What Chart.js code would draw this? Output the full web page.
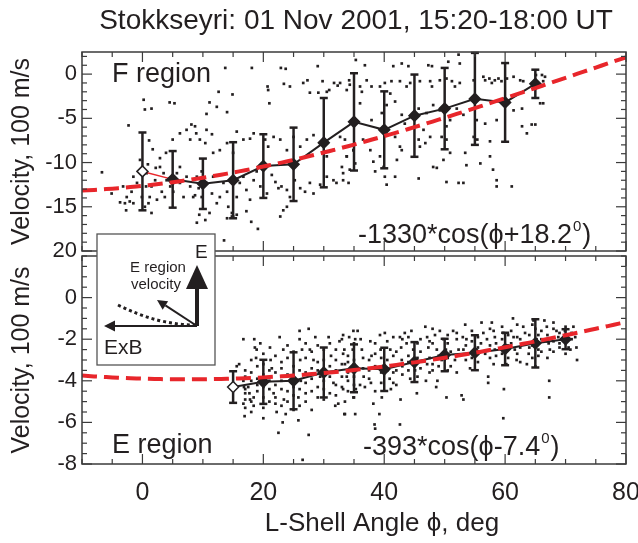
<!DOCTYPE html>
<html>
<head>
<meta charset="utf-8">
<script src="https://cdn.jsdelivr.net/npm/chart.js@4.4.1/dist/chart.umd.min.js"></script>
<style>
  body { margin: 0; background: #fff; }
  #wrap { position: relative; width: 638px; height: 543px; }
  #wrap canvas { position: absolute; left: 0; top: 0; }
</style>
</head>
<body>
<div id="wrap">
  <canvas id="chartF" width="638" height="543"></canvas>
  <canvas id="chartE" width="638" height="543"></canvas>
</div>
<script>
const FONT = "'Liberation Sans', Arial, Helvetica, sans-serif";
const INK = '#231f20';
const FIT_RED = '#e8262b';

// L-shell angle axis (deg)
const angleTicks = [0, 20, 40, 60, 80];

// F region: 5 deg bin averages and standard deviations, 100 m/s
const fBins = [0, 5, 10, 15, 20, 25, 30, 35, 40, 45, 50, 55, 60, 65];
const fMean = [-11.0, -11.9, -12.4, -12.0, -10.4, -10.2, -7.75, -5.4, -6.3, -4.7, -3.9, -2.8, -3.2, -1.1];
const fSd = [4.4, 3.2, 2.85, 4.3, 3.6, 4.15, 5.05, 5.5, 4.35, 4.65, 4.6, 5.2, 4.45, 1.6];
const fTicks = [0, -5, -10, -15, -20];
const fTickLabels = ['0', '-5', '-10', '-15', '20'];

// E region bins
const eBins = [15, 20, 25, 30, 35, 40, 45, 50, 55, 60, 65, 70];
const eMean = [-4.3, -4.05, -4.0, -3.6, -3.4, -3.45, -3.1, -2.76, -2.65, -2.47, -2.2, -2.0];
const eSd = [0.76, 1.06, 1.37, 1.2, 1.15, 1.04, 0.96, 0.78, 0.84, 0.78, 1.16, 0.48];
const eTicks = [0, -2, -4, -6, -8];
const eTickLabels = ['0', '-2', '-4', '-6', '-8'];

// cosine fits, m/s and deg
const fFit = { amp: -1330, phase: 18.2 };
const eFit = { amp: -393, phase: -7.4 };

// individual velocity samples [angle, velocity/100]
const fDots = [
  [13.7,0.7],[18.1,0.7],[22.9,0.7],[23.7,0.6],[29.0,0.9],[35.3,1.6],
  [0.2,-2.9],[0.4,-4.0],[1.5,-3.9],[4.5,-3.2],[5.3,-3.3],[12.6,-2.0],[14.9,-2.3],[11.1,-3.2],[12.3,-3.7],[14.0,-4.3],[10.6,-4.5],
  [20.7,-1.4],[20.8,-1.8],[21.0,-3.3],[24.4,-1.4],[23.4,-1.1],[26.6,-1.0],[27.3,-0.7],[27.7,-2.1],[29.1,-2.1],[29.8,-0.8],[30.5,-2.0],[30.9,-1.8],[31.7,-1.0],[32.3,-1.3],[34.2,-0.7],[34.3,-1.2],
  [-2.3,-5.8],[-6.7,-11.1],[-5.1,-13.5],[-3.7,-14.5],[-2.9,-14.6],[-2.1,-14.4],[-1.5,-14.6],[-2.7,-15.4],
  [1.1,-7.5],[1.7,-8.5],[0.9,-10.2],[0.6,-12.7],[1.0,-14.6],[1.5,-15.7],[2.9,-9.5],[3.9,-8.9],[5.0,-7.4],[7.3,-6.3],[8.1,-5.7],[8.9,-6.7],[10.4,-7.8],[11.5,-6.8],
  [8.7,-13.7],[9.8,-13.9],[9.4,-15.9],[9.0,-16.8],[10.4,-16.5],[11.1,-15.7],[14.0,-16.3],[14.8,-16.1],[15.6,-15.9],[17.2,-15.5],[18.0,-16.7],[19.1,-17.5],[22.8,-16.1],[23.3,-15.4],[13.5,-18.8],
  [2.9,-10.5],[3.5,-11.2],[4.0,-12.0],[4.6,-12.7],[3.2,-13.3],[3.7,-13.9],[5.1,-13.3],[5.7,-11.2],[6.2,-12.3],[6.8,-13.9],[7.3,-11.6],[7.9,-12.7],[6.2,-10.5],[8.4,-13.9],[9.0,-11.6],[9.3,-12.9],[9.8,-11.0],[10.6,-12.3],[11.5,-13.5],[11.7,-11.6],[12.3,-14.6],[12.8,-13.9],[13.4,-12.3],[14.0,-13.3],[14.2,-15.0],[14.8,-15.7],[15.6,-13.9],[16.1,-12.3],[16.7,-11.6],[17.2,-13.1],[17.8,-14.2],[18.4,-12.0],[18.9,-11.0],[19.5,-12.7],[20.6,-13.5],[21.4,-11.4],[22.0,-12.2],[22.5,-12.9],[23.0,-12.7],[23.9,-13.1],[24.4,-13.9],[25.2,-12.0],[26.1,-12.9],[26.9,-13.3],[27.7,-12.3],[28.3,-13.5],[29.4,-12.5],[30.5,-11.6],[31.6,-12.0],[32.1,-12.3],[33.2,-11.2],[34.3,-10.8],[35.2,-10.1],
  [6.2,-6.7],[7.9,-7.4],[8.7,-5.9],[9.5,-7.4],[10.6,-6.3],[11.7,-8.9],[12.8,-8.6],[14.0,-7.8],[15.0,-8.9],[15.6,-6.5],[16.7,-7.4],[17.8,-7.3],[18.4,-6.7],[20.3,-7.4],[20.8,-8.2],[21.7,-7.1],[22.8,-7.4],[23.9,-8.6],[25.0,-7.1],[26.1,-8.2],[27.2,-7.4],[28.3,-6.9],[29.4,-7.8],[30.5,-9.3],[31.6,-8.6],[32.7,-7.1],[33.8,-9.3],[34.9,-8.6],
  [-3.2,-12.7],[-2.6,-13.9],[-1.8,-13.3],[-1.5,-11.6],[-0.9,-12.3],[-0.1,-13.9],[0.4,-15.0],[1.2,-13.9],[1.5,-12.7],[2.1,-12.0],[2.4,-14.2],[0.7,-11.2],[2.2,-10.6],[-0.4,-9.7],
  [15.0,-16.1],[23.9,-15.0],
  [36.8,1.0],[41.5,0.9],[42.9,1.2],[44.0,0.9],[47.3,1.0],[47.9,0.9],[50.6,1.4],[52.3,2.2],[52.5,1.2],
  [33.8,-1.8],[36.0,-1.4],[36.3,-2.0],[37.1,-0.7],[37.9,-1.4],[39.3,-1.4],[40.1,-1.0],[41.0,-2.2],[41.2,-0.8],[42.6,-0.8],[43.7,-1.4],[44.3,-1.0],[45.9,-0.8],[47.6,-0.8],[47.9,-1.4],[49.2,-0.7],[50.3,-0.5],[51.2,-0.8],[51.7,-1.4],[52.5,-1.0],[54.8,-0.7],[56.4,-0.3],[56.7,-0.7],[57.4,-0.5],[57.8,-1.0],[58.3,-0.7],[58.9,-0.5],[59.4,-0.8],[60.3,-0.5],[61.4,-0.3],[62.5,-0.7],[63.0,-0.8],[65.1,-0.1],[66.1,-0.1],[66.6,-0.3],[66.3,-0.8],[32.7,-1.0],
  [36.0,-3.3],[37.9,-5.2],[39.6,-4.4],[40.4,-3.5],[41.8,-3.1],[42.9,-4.6],[43.4,-5.6],[45.7,-3.9],[47.0,-4.4],[48.1,-3.5],[49.2,-4.1],[50.9,-5.2],[52.0,-3.9],[53.1,-4.6],[55.3,-5.2],[56.7,-5.6],[58.6,-5.2],[61.4,-4.1],[62.8,-3.9],[64.4,-5.7],[65.8,-3.3],
  [33.5,-7.4],[34.9,-8.6],[33.8,-9.3],[33.0,-10.5],[33.2,-12.0],[34.1,-12.3],[36.5,-7.4],[37.7,-8.6],[38.2,-9.9],[38.5,-11.0],[39.3,-9.3],[39.9,-10.5],[40.1,-11.6],[40.4,-12.5],[41.8,-7.1],[42.6,-8.2],[42.9,-8.6],[42.1,-9.7],[41.8,-11.6],
  [45.4,-5.9],[45.7,-7.4],[45.9,-8.2],[46.5,-6.3],[46.8,-7.8],[47.6,-7.1],[48.1,-10.5],[48.7,-10.6],[45.7,-11.8],[49.5,-7.1],[50.3,-5.9],[50.3,-7.4],[50.9,-8.9],[49.8,-9.7],[50.3,-12.2],[52.3,-12.3],[53.1,-12.3],[53.6,-10.3],[53.4,-8.9],[54.8,-7.1],[55.4,-7.4],[55.9,-10.1],[57.5,-9.3],[58.0,-10.8],[58.6,-12.0],[58.6,-12.7],[61.1,-12.7],[57.5,-7.6],[62.8,-5.9],[63.6,-6.7],[65.0,-5.7],[66.3,-3.3]
];

const eDots = [
  [16.7,-2.0],[18.5,-2.0],[18.6,-2.4],[18.9,-2.5],[18.8,-2.9],[19.5,-2.2],[15.6,-3.3],[16.0,-3.2],[16.7,-4.0],[16.8,-4.3],[17.0,-4.6],[16.7,-5.1],[16.9,-5.7],[17.5,-4.3],[17.7,-4.6],[17.8,-4.9],[18.4,-4.8],[18.4,-5.2],
  [21.1,-2.4],[21.2,-3.0],[21.4,-3.4],[21.7,-4.6],[22.0,-5.1],[22.2,-5.5],[22.5,-6.5],[22.7,-1.9],[23.3,-2.5],[23.6,-3.8],[23.4,-4.9],[23.7,-5.6],[23.2,-6.0],
  [26.0,-1.6],[26.4,-2.5],[26.1,-3.0],[26.2,-4.0],[25.8,-4.8],[25.8,-5.9],[27.5,-6.6],[26.5,-7.8],[27.5,-1.5],[27.7,-2.5],[28.3,-3.0],[28.6,-1.9],[29.0,-4.3],[29.4,-3.8],
  [30.8,-1.9],[31.2,-2.8],[31.6,-4.1],[31.9,-5.2],[32.4,-5.1],[32.6,-2.1],[33.2,-2.7],[33.5,-5.6],[34.2,-1.9],[34.8,-2.5],[34.9,-3.3],[35.6,-1.6],
  [17,-3.5],[17,-3.8],[17,-4.4],[17,-4.9],[17,-5.3],[18,-3.0],[18,-3.6],[18,-4.0],[18,-5.0],[18,-5.5],[19,-3.3],[19,-3.9],[19,-4.2],[19,-4.5],
  [20,-2.7],[20,-3.2],[20,-3.7],[20,-4.3],[20,-4.8],[20,-5.3],[20,-5.8],[21,-3.5],[21,-4.0],[21,-4.4],[21,-5.0],[22,-2.8],[22,-3.6],[22,-4.2],[22,-4.8],
  [23,-3.1],[23,-3.4],[23,-4.0],[23,-4.4],[23,-5.2],[24,-2.3],[24,-2.9],[24,-3.7],[24,-4.5],[24,-5.0],[25,-2.6],[25,-3.3],[25,-3.9],[25,-4.3],[25,-4.7],[25,-5.4],
  [26,-2.0],[26,-3.5],[26,-4.4],[26,-5.2],[27,-2.2],[27,-2.9],[27,-3.6],[27,-4.1],[27,-4.6],[27,-5.0],[28,-2.6],[28,-3.4],[28,-3.9],[28,-4.5],[28,-5.4],
  [29,-2.3],[29,-3.1],[29,-3.5],[29,-4.8],[30,-2.5],[30,-3.0],[30,-3.6],[30,-4.0],[30,-4.4],[30,-4.9],[31,-2.2],[31,-3.3],[31,-3.8],[31,-4.6],
  [32,-2.5],[32,-3.0],[32,-3.5],[32,-4.2],[32,-4.7],[33,-2.0],[33,-3.2],[33,-3.8],[33,-4.3],[34,-2.8],[34,-3.1],[34,-3.6],[34,-4.0],[34,-4.5],[35,-2.2],[35,-3.0],[35,-3.8],[35,-4.2],[35,-4.8],
  [33.2,-1.8],[33.4,-2.5],[33.5,-3.2],[33.8,-3.8],[33.2,-4.4],[33.5,-5.0],[33.4,-5.6],[34.9,-1.6],[35.2,-2.0],[35.0,-3.2],[35.3,-4.4],[34.9,-4.8],[35.2,-5.6],
  [36.1,-2.0],[36.3,-2.5],[36.6,-3.8],[36.8,-4.3],[36.0,-4.2],[37.7,-2.1],[37.9,-2.8],[37.8,-4.1],[38.2,-5.1],[38.4,-6.1],[38.5,-6.3],
  [39.3,-1.8],[39.4,-2.5],[39.6,-4.8],[39.2,-5.6],[40.1,-1.7],[41.0,-2.5],[41.2,-3.3],[41.5,-4.1],[41.1,-4.4],[40.9,-3.9],
  [42.6,-1.9],[42.8,-2.4],[42.9,-3.0],[42.7,-4.9],[42.6,-6.1],[43.4,-1.7],[43.7,-2.2],[44.0,-2.8],[44.3,-3.9],[44.5,-1.6],[44.8,-2.5],[45.1,-3.5],[45.4,-4.6],
  [46.8,-1.4],[47.1,-1.9],[47.3,-2.4],[47.1,-3.2],[46.9,-4.0],[48.4,-1.8],[48.7,-2.5],[48.8,-4.0],[48.6,-4.3],[49.2,-1.6],[49.8,-2.0],[50.2,-2.5],[50.3,-4.8],[49.5,-3.0],
  [51.4,-1.6],[52.0,-2.0],[52.3,-2.5],[51.7,-3.0],[53.0,-1.9],[53.1,-2.5],[52.8,-4.7],[53.1,-4.9],[53.4,-1.3],[53.6,-2.0],[53.9,-2.7],[54.2,-3.4],
  [56.1,-1.2],[56.4,-1.7],[57.0,-2.0],[56.7,-2.7],[57.2,-3.8],[57.2,-4.1],[57.8,-1.2],[58.1,-1.6],[58.3,-1.9],[58.3,-2.5],[58.1,-3.2],
  [59.7,-1.7],[60.0,-2.5],[60.2,-3.2],[59.8,-4.4],[59.7,-5.8],[61.3,-1.0],[61.4,-1.9],[61.6,-2.5],[61.9,-3.0],
  [63.0,-1.4],[63.3,-1.7],[63.6,-2.2],[63.9,-2.7],[63.6,-3.2],[64.7,-1.1],[65.0,-1.5],[65.2,-2.0],[65.5,-2.5],[65.0,-3.3],
  [66.5,-1.1],[66.9,-1.4],[67.2,-2.2],[67.4,-2.5],[67.3,-4.0],[67.3,-4.8],[68.0,-1.2],[68.5,-1.6],[68.8,-1.9],[69.0,-2.4],
  [69.9,-1.6],[70.2,-1.9],[70.5,-2.4],[70.8,-2.5],[71.3,-1.4],[71.6,-1.9],[71.8,-2.4],[71.9,-3.0],
  [36.5,-2.9],[36.5,-3.4],[37.5,-3.0],[37.5,-3.5],[37.5,-3.9],[38.5,-2.2],[38.5,-2.7],[38.5,-3.3],[38.5,-4.5],[39.5,-2.9],[39.5,-3.6],[39.5,-4.1],
  [40.5,-2.1],[40.5,-3.0],[40.5,-3.5],[41.5,-1.9],[41.5,-2.8],[41.5,-3.6],[42,-2.6],[42,-3.5],[42,-4.2],[43,-2.0],[43,-3.3],[43,-3.7],[44,-1.9],[44,-3.1],[44,-3.5],
  [45.5,-2.2],[45.5,-2.9],[45.5,-3.8],[46,-2.0],[46,-2.6],[46,-3.4],[47.5,-2.1],[47.5,-2.9],[47.5,-3.6],[48,-1.5],[48,-2.2],[48,-3.2],[48,-3.5],[49,-2.8],[49,-3.3],
  [50.5,-1.8],[50.5,-2.2],[50.5,-2.9],[50.5,-3.5],[51,-2.6],[51,-3.3],[52,-1.7],[52,-2.8],[52,-3.6],[53.5,-2.3],[53.5,-3.0],[54.5,-1.6],[54.5,-2.1],[54.5,-2.9],
  [55.5,-1.9],[55.5,-2.4],[55.5,-3.1],[56,-2.2],[56,-2.6],[57.5,-1.5],[57.5,-2.3],[57.5,-2.9],[58.5,-2.2],[58.5,-2.8],[59.5,-1.4],[59.5,-2.0],[59.5,-2.7],
  [60.5,-1.8],[60.5,-2.3],[60.5,-2.9],[61,-1.6],[61,-2.2],[62,-1.3],[62,-1.9],[62,-2.7],[62.5,-2.0],[62.5,-2.4],[62.5,-3.1],[64,-1.8],[64,-2.4],
  [64.5,-1.3],[64.5,-2.3],[64.5,-2.9],[65.5,-1.8],[65.5,-2.2],[65.5,-2.8],[66,-1.6],[66,-2.0],[66,-2.6],[67,-1.8],[67,-2.1],[67,-2.9],
  [68,-1.5],[68,-2.1],[68,-2.6],[69,-1.7],[69,-2.2],[70,-1.4],[70,-2.1],[70,-2.7],[71,-1.7],[71,-2.0]
];

function fitPoints(fit) {
  const pts = [];
  for (let a = -10; a <= 80; a += 1) {
    pts.push({ x: a, y: fit.amp * Math.cos((a + fit.phase) * Math.PI / 180) / 100 });
  }
  return pts;
}

function line(ctx, x0, y0, x1, y1) {
  ctx.beginPath(); ctx.moveTo(x0, y0); ctx.lineTo(x1, y1); ctx.stroke();
}

// text like "-1330*cos(ϕ+18.2" followed by a raised small "0" and ")"
function drawFormula(ctx, x, y, head, size) {
  ctx.font = size + 'px ' + FONT;
  ctx.textAlign = 'left';
  ctx.textBaseline = 'alphabetic';
  ctx.fillText(head, x, y);
  let cx = x + ctx.measureText(head).width + 1;
  ctx.font = Math.round(size * 0.55) + 'px ' + FONT;
  ctx.fillText('0', cx, y - size * 0.45);
  cx += ctx.measureText('0').width + 1;
  ctx.font = size + 'px ' + FONT;
  ctx.fillText(')', cx, y);
}

// frame with inward IDL-style ticks on all four sides
function drawFrame(chart, majorY, minorStep) {
  const { ctx, chartArea: a, scales: { x, y } } = chart;
  ctx.save();
  ctx.strokeStyle = '#3b3b3b';
  ctx.lineWidth = 1.5;
  ctx.strokeRect(a.left, a.top, a.right - a.left, a.bottom - a.top);
  ctx.lineWidth = 1.2;
  for (let v = -10; v <= 80; v += 5) {
    const px = x.getPixelForValue(v);
    const len = angleTicks.includes(v) ? 10 : 5;
    line(ctx, px, a.bottom, px, a.bottom - len);
    line(ctx, px, a.top, px, a.top + len);
  }
  for (let v = Math.ceil(y.min / minorStep) * minorStep; v <= y.max + 1e-6; v += minorStep) {
    const py = y.getPixelForValue(v);
    const len = majorY.some(m => Math.abs(m - v) < 1e-6) ? 10 : 5;
    line(ctx, a.left, py, a.left + len, py);
    line(ctx, a.right, py, a.right - len, py);
  }
  ctx.restore();
}

// error bars for the bin averages, placed under the averaged curve
function drawErrorBars(chart, bins, mean, sd) {
  const { ctx, scales: { x, y } } = chart;
  ctx.save();
  ctx.strokeStyle = INK;
  ctx.lineWidth = 2.5;
  bins.forEach((b, i) => {
    const px = x.getPixelForValue(b);
    const top = y.getPixelForValue(mean[i] + sd[i]);
    const bot = y.getPixelForValue(mean[i] - sd[i]);
    line(ctx, px, top, px, bot);
    line(ctx, px - 4, top, px + 4, top);
    line(ctx, px - 4, bot, px + 4, bot);
  });
  ctx.restore();
}

function arrow(ctx, x0, y0, x1, y1, head, width) {
  const ang = Math.atan2(y1 - y0, x1 - x0);
  const bx = x1 - head * Math.cos(ang), by = y1 - head * Math.sin(ang);
  line(ctx, x0, y0, bx, by);
  ctx.beginPath();
  ctx.moveTo(x1, y1);
  ctx.lineTo(bx + width / 2 * Math.sin(ang), by - width / 2 * Math.cos(ang));
  ctx.lineTo(bx - width / 2 * Math.sin(ang), by + width / 2 * Math.cos(ang));
  ctx.closePath();
  ctx.fill();
}

// sketch of E, ExB and the E region drift direction
function drawInset(ctx) {
  ctx.save();
  ctx.fillStyle = '#fff';
  ctx.strokeStyle = '#555';
  ctx.lineWidth = 1.3;
  ctx.fillRect(97, 234, 118, 131);
  ctx.strokeRect(97, 234, 118, 131);
  ctx.fillStyle = INK;
  ctx.strokeStyle = INK;
  const ox = 197, oy = 326;
  ctx.lineWidth = 4;
  arrow(ctx, ox, oy, ox, 265, 24, 22);
  ctx.lineWidth = 2;
  arrow(ctx, ox, oy, 104, oy, 11, 11);
  arrow(ctx, ox, oy, 157, 300, 10, 10);
  ctx.lineWidth = 3;
  ctx.setLineDash([3, 3]);
  ctx.beginPath();
  ctx.moveTo(118, 305);
  ctx.quadraticCurveTo(158, 325, 195, 325);
  ctx.stroke();
  ctx.setLineDash([]);
  ctx.textBaseline = 'alphabetic';
  ctx.textAlign = 'left';
  ctx.font = '19px ' + FONT;
  ctx.fillText('E', 195, 258);
  ctx.textAlign = 'center';
  ctx.font = '15px ' + FONT;
  ctx.fillText('E region', 158, 272);
  ctx.fillText('velocity', 156, 289);
  ctx.textAlign = 'left';
  ctx.font = '21px ' + FONT;
  ctx.fillText('ExB', 104, 354);
  ctx.restore();
}

const panelF = {
  id: 'panelF',
  beforeDatasetDraw(chart, args) {
    if (args.index === 1) drawErrorBars(chart, fBins, fMean, fSd);
  },
  afterDraw(chart) {
    const ctx = chart.ctx;
    drawFrame(chart, fTicks, 1);
    ctx.save();
    ctx.fillStyle = INK;
    ctx.textBaseline = 'alphabetic';
    ctx.textAlign = 'center';
    ctx.font = '28px ' + FONT;
    ctx.fillText('Stokkseyri: 01 Nov 2001, 15:20-18:00 UT', 356, 29);
    ctx.textAlign = 'left';
    ctx.font = '27px ' + FONT;
    ctx.fillText('F region', 112, 82);
    drawFormula(ctx, 358, 243, '-1330*cos(\u03d5+18.2', 27);
    ctx.restore();
  }
};

const panelE = {
  id: 'panelE',
  beforeDatasetDraw(chart, args) {
    if (args.index === 1) drawErrorBars(chart, eBins, eMean, eSd);
  },
  afterDraw(chart) {
    const ctx = chart.ctx;
    drawFrame(chart, eTicks, 0.5);
    ctx.save();
    ctx.fillStyle = INK;
    ctx.textBaseline = 'alphabetic';
    ctx.textAlign = 'left';
    ctx.font = '27px ' + FONT;
    ctx.fillText('E region', 112, 453);
    drawFormula(ctx, 363, 455, '-393*cos(\u03d5-7.4', 27);
    ctx.textAlign = 'center';
    ctx.font = '26px ' + FONT;
    ctx.fillText('L-Shell Angle \u03d5, deg', 382, 531);
    ctx.restore();
    drawInset(ctx);
  }
};

function yAxis(min, max, ticks, labels) {
  return {
    type: 'linear', min, max,
    afterBuildTicks: s => { s.ticks = ticks.map(v => ({ value: v })); },
    afterFit: s => { s.width = 82; s.paddingTop = 0; s.paddingBottom = 0; },
    ticks: {
      autoSkip: false, padding: 5, color: INK,
      font: { family: FONT, size: 22 },
      callback: (v, i) => labels[i]
    },
    grid: { display: false, drawTicks: false },
    border: { display: false },
    title: {
      display: true, text: 'Velocity, 100 m/s', color: INK,
      font: { family: FONT, size: 25 }, padding: { top: 7, bottom: 0 }
    }
  };
}

function panelDatasets(fit, bins, mean, dots) {
  return [
    {
      data: fitPoints(fit), showLine: true, borderColor: FIT_RED, borderWidth: 4,
      borderDash: [15, 7], pointRadius: 0, tension: 0
    },
    {
      data: bins.map((b, i) => ({ x: b, y: mean[i] })), showLine: true,
      borderColor: INK, borderWidth: 2, pointStyle: 'rectRot', pointRadius: 5.5,
      pointBackgroundColor: bins.map((b, i) => i === 0 ? '#fff' : INK),
      pointBorderColor: INK, pointBorderWidth: 1.5,
      segment: {
        borderColor: c => (c.p0DataIndex === 0 && bins === fBins) ? FIT_RED : INK,
        borderWidth: c => (c.p0DataIndex === 0 && bins === fBins) ? 1.5 : 2
      }
    },
    {
      data: dots.map(([x, y]) => ({ x, y })), pointStyle: 'rect', pointRadius: 1.9,
      backgroundColor: INK, borderWidth: 0
    }
  ];
}

const common = {
  responsive: false,
  animation: false,
  plugins: { legend: { display: false }, tooltip: { enabled: false } }
};

new Chart(document.getElementById('chartF'), {
  type: 'scatter',
  data: { datasets: panelDatasets(fFit, fBins, fMean, fDots) },
  options: {
    ...common,
    layout: { padding: { left: 0, right: 12, top: 52, bottom: 0 } },
    scales: {
      x: {
        type: 'linear', min: -10, max: 80,
        afterFit: s => { s.height = 292; s.paddingLeft = 0; s.paddingRight = 0; },
        ticks: { display: false },
        grid: { display: false, drawTicks: false },
        border: { display: false }
      },
      y: yAxis(-20, 2.5, fTicks, fTickLabels)
    }
  },
  plugins: [panelF]
});

new Chart(document.getElementById('chartE'), {
  type: 'scatter',
  data: { datasets: panelDatasets(eFit, eBins, eMean, eDots) },
  options: {
    ...common,
    layout: { padding: { left: 0, right: 12, top: 256, bottom: 0 } },
    scales: {
      x: {
        type: 'linear', min: -10, max: 80,
        afterBuildTicks: s => { s.ticks = angleTicks.map(v => ({ value: v })); },
        afterFit: s => { s.height = 79; s.paddingLeft = 0; s.paddingRight = 0; },
        ticks: { autoSkip: false, maxRotation: 0, padding: 14, color: INK, font: { family: FONT, size: 25 } },
        grid: { display: false, drawTicks: false },
        border: { display: false }
      },
      y: yAxis(-8, 2, eTicks, eTickLabels)
    }
  },
  plugins: [panelE]
});
</script>
</body>
</html>
